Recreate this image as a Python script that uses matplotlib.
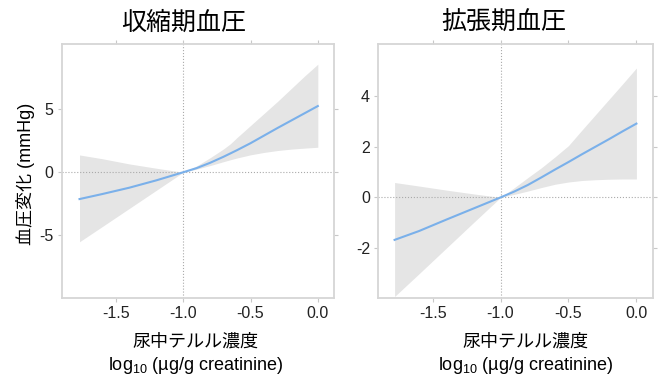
import matplotlib.pyplot as plt

plt.rcParams['font.family'] = ['Liberation Sans', 'Noto Sans CJK JP', 'DejaVu Sans']
plt.rcParams['axes.unicode_minus'] = False
plt.rcParams['mathtext.fontset'] = 'custom'
plt.rcParams['mathtext.rm'] = 'Liberation Sans'
plt.rcParams['mathtext.it'] = 'Liberation Sans:italic'

# 収縮期血圧 (左)
sbp_x = [-1.77, -1.6, -1.4, -1.2, -1.0, -0.9, -0.8, -0.7, -0.65, -0.6, -0.5, -0.4, -0.3, -0.2, -0.1, 0.0]
sbp_fit = [-2.12, -1.72, -1.22, -0.64, 0.0, 0.33, 0.75, 1.23, 1.49, 1.75, 2.3, 2.9, 3.5, 4.08, 4.66, 5.24]
sbp_lo = [-5.5, -4.29, -2.86, -1.43, 0.0, 0.25, 0.53, 0.84, 0.99, 1.13, 1.38, 1.57, 1.72, 1.83, 1.91, 1.98]
sbp_hi = [1.37, 1.07, 0.66, 0.32, 0.0, 0.5, 1.15, 1.85, 2.25, 2.75, 3.7, 4.65, 5.6, 6.6, 7.6, 8.55]

# 拡張期血圧 (右)
dbp_x = [-1.78, -1.6, -1.4, -1.2, -1.0, -0.9, -0.8, -0.7, -0.6, -0.5, -0.4, -0.3, -0.2, -0.1, 0.0]
dbp_fit = [-1.68, -1.33, -0.88, -0.44, 0.0, 0.23, 0.49, 0.79, 1.1, 1.4, 1.71, 2.01, 2.31, 2.62, 2.92]
dbp_lo = [-3.92, -3.02, -2.01, -1.0, 0.0, 0.12, 0.25, 0.39, 0.52, 0.61, 0.67, 0.7, 0.72, 0.73, 0.73]
dbp_hi = [0.59, 0.45, 0.29, 0.14, 0.0, 0.38, 0.78, 1.17, 1.6, 2.05, 2.67, 3.28, 3.89, 4.5, 5.12]

xticks = [-1.5, -1.0, -0.5, 0.0]
xtick_labels = ['-1.5', '-1.0', '-0.5', '0.0']

line_color = '#7ab0ea'
band_color = '#e5e5e5'
spine_color = '#d6d6d6'

fig = plt.figure(figsize=(6.64, 3.78), dpi=100)
ax1 = fig.add_axes([0.0934, 0.2116, 0.4096, 0.672])
ax2 = fig.add_axes([0.5697, 0.2116, 0.4133, 0.672])


def draw(ax, x, fit, lo, hi, ylim, yticks):
    ax.fill_between(x, lo, hi, color=band_color, linewidth=0)
    ax.axvline(-1.0, color='#aaaaaa', linestyle=':', linewidth=0.8)
    ax.axhline(0, color='#aaaaaa', linestyle=':', linewidth=0.8)
    ax.plot(x, fit, color=line_color, linewidth=1.5)
    ax.set_xlim(-1.9, 0.12)
    ax.set_ylim(*ylim)
    ax.set_xticks(xticks)
    ax.set_xticklabels(xtick_labels)
    ax.set_yticks(yticks)
    ax.set_yticklabels([str(t) for t in yticks])
    for s in ax.spines.values():
        s.set_color(spine_color)
        s.set_linewidth(1.3)
    ax.tick_params(which='both', direction='out', length=3, width=0.8,
                   color='#c8c8c8', labelsize=11.5, labelcolor='#222222', pad=3,
                   top=True, right=True)


draw(ax1, sbp_x, sbp_fit, sbp_lo, sbp_hi, (-9.95, 10.15), [-5, 0, 5])
draw(ax2, dbp_x, dbp_fit, dbp_lo, dbp_hi, (-3.98, 6.07), [-2, 0, 2, 4])

fig.text(0.277, 0.939, '収縮期血圧', fontsize=18, ha='center', va='center')
fig.text(0.759, 0.939, '拡張期血圧', fontsize=18, ha='center', va='center')

for xc in [0.295, 0.791]:
    fig.text(xc, 0.096, '尿中テルル濃度', fontsize=13, ha='center', va='center')
    fig.text(xc, 0.034, r'log$_{10}$ (µg/g creatinine)', fontsize=13, ha='center', va='center')

fig.text(0.0377, 0.54, '血圧変化 (mmHg)', fontsize=13, rotation=90, ha='center', va='center')

plt.savefig('out.png', dpi=100)
